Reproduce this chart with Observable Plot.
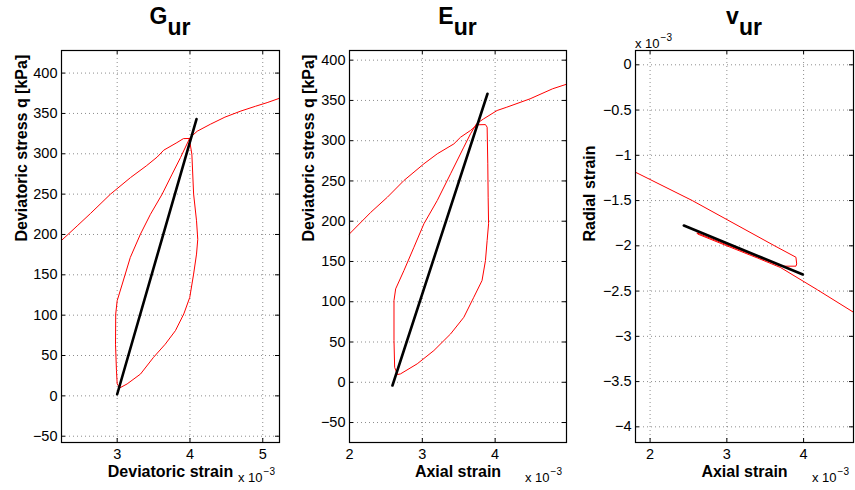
<!DOCTYPE html>
<html>
<head>
<meta charset="utf-8">
<script src="https://cdn.jsdelivr.net/npm/d3@7"></script>
<script src="https://cdn.jsdelivr.net/npm/@observablehq/plot@0.6"></script>
<style>
  body { margin: 0; background: #fff; }
  #wrap { position: relative; width: 855px; height: 490px; overflow: hidden; background: #fff;
          font-family: "Liberation Sans", Arial, Helvetica, sans-serif; color: #000; }
  .panel { position: absolute; top: 0; }
  .title { position: absolute; top: 5px; width: 200px; text-align: center; font-weight: bold;
           font-size: 23px; line-height: 23px; white-space: nowrap; }
  .title span { position: relative; top: 11px; }
  .exp { position: absolute; font-size: 13px; line-height: 13px; white-space: nowrap; }
  .exp sup { font-size: 10px; position: relative; top: -7px; vertical-align: baseline; margin-left: 1px; }
</style>
</head>
<body>
<div id="wrap"></div>
<script>
// ---------- data (strains in units of 1e-3) ----------
// Panel 1: G_ur  (deviatoric strain vs deviatoric stress q)
const gStrain = [2.235, 2.45, 2.633, 2.908, 3.183, 3.40, 3.55, 3.64, 3.82, 3.91, 3.99, 4.026, 4.05, 4.09, 4.107, 4.09, 4.05, 3.997, 3.915, 3.80, 3.66, 3.50, 3.32, 3.137, 3.036, 3.0, 2.99, 2.977, 2.98, 3.0, 3.07, 3.18, 3.32, 3.457, 3.618, 3.755, 3.87, 4.0, 4.10, 4.28, 4.48, 4.70, 4.90, 5.06, 5.23];
const gQ      = [192.6, 210.6, 226, 250, 270.5, 285, 296, 304.5, 313.8, 318.8, 319, 299.5, 250, 217, 194, 175.7, 151, 122, 101.5, 80.8, 64, 47.8, 27, 14.8, 9.9, 14.8, 31.3, 64, 101.5, 118, 138.6, 171.5, 200.5, 225, 250, 274.8, 295.3, 320, 328, 336.6, 345.4, 353, 358.9, 363.4, 368.8];
const gFitStrain = [3.0, 4.09];
const gFitQ      = [2, 343];

// Panel 2: E_ur  (axial strain vs deviatoric stress q)
const eStrain = [2.0, 2.292, 2.52, 2.748, 3.022, 3.205, 3.433, 3.525, 3.662, 3.753, 3.867, 3.89, 3.899, 3.904, 3.91, 3.89, 3.867, 3.82, 3.707, 3.57, 3.388, 3.159, 2.93, 2.70, 2.658, 2.62, 2.611, 2.611, 2.634, 2.748, 2.885, 3.022, 3.205, 3.388, 3.57, 3.662, 3.744, 3.84, 4.027, 4.16, 4.48, 4.79, 4.97];
const eQ      = [184.3, 211, 229.8, 250.6, 271.3, 283.7, 296, 304.3, 312.7, 319.7, 320, 316.8, 271.3, 229.8, 196.8, 176, 151, 126.3, 105.6, 80.7, 60, 39.4, 22.9, 10.4, 9.6, 18.6, 51.8, 101.5, 116, 138.8, 167.7, 196.8, 225.7, 258.9, 292, 308.6, 321, 327, 337.5, 341.6, 352, 364.5, 369.8];
const eFitStrain = [2.59, 3.895];
const eFitQ      = [-4, 358.3];

// Panel 3: v_ur  (axial strain vs radial strain)
const vAxial  = [1.81, 2.55, 3.616, 3.90, 3.91, 3.90, 3.70, 3.3, 2.9, 2.61, 2.62, 3.0, 3.4, 3.7, 4.18, 4.65];
const vRadial = [-1.187, -1.50, -1.997, -2.126, -2.20, -2.225, -2.225, -2.09, -1.955, -1.857, -1.87, -2.0, -2.135, -2.24, -2.486, -2.734];
const vFitAxial  = [2.44, 3.99];
const vFitRadial = [-1.776, -2.317];

// tick values
const gXTicks = [3, 4, 5];
const gYTicks = [-50, 0, 50, 100, 150, 200, 250, 300, 350, 400];
const eXTicks = [2, 3, 4];
const eYTicks = [-50, 0, 50, 100, 150, 200, 250, 300, 350, 400];
const vXTicks = [2, 3, 4];
const vYTicks = [-4, -3.5, -3, -2.5, -2, -1.5, -1, -0.5, 0];

const toPts = (xs, ys) => xs.map((x, i) => ({x, y: ys[i]}));
const fmt = d => (d < 0 ? "\u2212" + String(-d) : String(d));

const wrap = document.getElementById("wrap");
const FONT = "'Liberation Sans', Arial, Helvetica, sans-serif";

function panel(o) {
  const height = 490, mt = 50, mb = 48;
  const fh = height - mt - mb, fw = o.width - o.ml - o.mr;
  const chart = Plot.plot({
    width: o.width, height,
    marginLeft: o.ml, marginRight: o.mr, marginTop: mt, marginBottom: mb,
    style: {fontFamily: FONT, fontSize: "14px", color: "#000", background: "transparent", overflow: "visible"},
    x: {domain: o.xDomain},
    y: {domain: o.yDomain},
    marks: [
      Plot.gridX(o.xTicks, {stroke: "#000", strokeOpacity: 0.45, strokeDasharray: "1,3"}),
      Plot.gridY(o.yTicks, {stroke: "#000", strokeOpacity: 0.45, strokeDasharray: "1,3"}),
      Plot.line(o.curve, {x: "x", y: "y", stroke: "#ff0000", strokeWidth: 1}),
      Plot.line(o.fit, {x: "x", y: "y", stroke: "#000", strokeWidth: 2.6}),
      Plot.tickX(o.xTicks, {x: d => d, insetTop: fh - 4, stroke: "#000"}),
      Plot.tickX(o.xTicks, {x: d => d, insetBottom: fh - 4, stroke: "#000"}),
      Plot.tickY(o.yTicks, {y: d => d, insetRight: fw - 4, stroke: "#000"}),
      Plot.tickY(o.yTicks, {y: d => d, insetLeft: fw - 4, stroke: "#000"}),
      Plot.axisX(o.xTicks, {tickSize: 0, tickPadding: 6, fontSize: 14.5, label: null, tickFormat: fmt}),
      Plot.axisY(o.yTicks, {tickSize: 0, tickPadding: 4, fontSize: 14.5, label: null, tickFormat: fmt}),
      Plot.frame({stroke: "#000", strokeWidth: 1.2}),
      Plot.text([o.xLabel], {text: d => d, frameAnchor: "bottom", lineAnchor: "bottom", dy: 34,
        fontSize: 16, fontWeight: "bold", fill: "#000"}),
      Plot.text([o.yLabel], {text: d => d, frameAnchor: "left", lineAnchor: "bottom", rotate: -90,
        dx: o.yLabelDx, dy: -5, fontSize: 16, fontWeight: "bold", fill: "#000"})
    ]
  });
  const div = document.createElement("div");
  div.className = "panel";
  div.style.left = o.left + "px";
  div.style.width = o.width + "px";
  div.appendChild(chart);
  wrap.appendChild(div);

  const cx = o.left + o.ml + fw / 2;
  const t = document.createElement("div");
  t.className = "title";
  t.style.left = (cx - 100) + "px";
  t.innerHTML = o.title + "<span>ur</span>";
  wrap.appendChild(t);

  for (const [ex, ey] of o.exps) {
    const e = document.createElement("div");
    e.className = "exp";
    e.style.left = ex + "px";
    e.style.top = (ey - 11) + "px";
    e.innerHTML = "x 10<sup>\u22123</sup>";
    wrap.appendChild(e);
  }
}

panel({
  left: 0, width: 290, ml: 61, mr: 11,
  xDomain: [2.235, 5.23], yDomain: [-57.8, 428],
  xTicks: gXTicks, yTicks: gYTicks,
  curve: toPts(gStrain, gQ), fit: toPts(gFitStrain, gFitQ),
  xLabel: "Deviatoric strain", yLabel: "Deviatoric stress q [kPa]", yLabelDx: -35,
  title: "G", exps: [[238, 482]]
});
panel({
  left: 290, width: 285, ml: 59, mr: 9,
  xDomain: [2, 4.98], yDomain: [-74.8, 412],
  xTicks: eXTicks, yTicks: eYTicks,
  curve: toPts(eStrain, eQ), fit: toPts(eFitStrain, eFitQ),
  xLabel: "Axial strain", yLabel: "Deviatoric stress q [kPa]", yLabelDx: -36,
  title: "E", exps: [[525, 482]]
});
panel({
  left: 575, width: 280, ml: 60, mr: 2,
  xDomain: [1.81, 4.65], yDomain: [-4.173, 0.158],
  xTicks: vXTicks, yTicks: vYTicks,
  curve: toPts(vAxial, vRadial), fit: toPts(vFitAxial, vFitRadial),
  xLabel: "Axial strain", yLabel: "Radial strain", yLabelDx: -41,
  title: "v", exps: [[812, 482], [635, 48]]
});
</script>
</body>
</html>
